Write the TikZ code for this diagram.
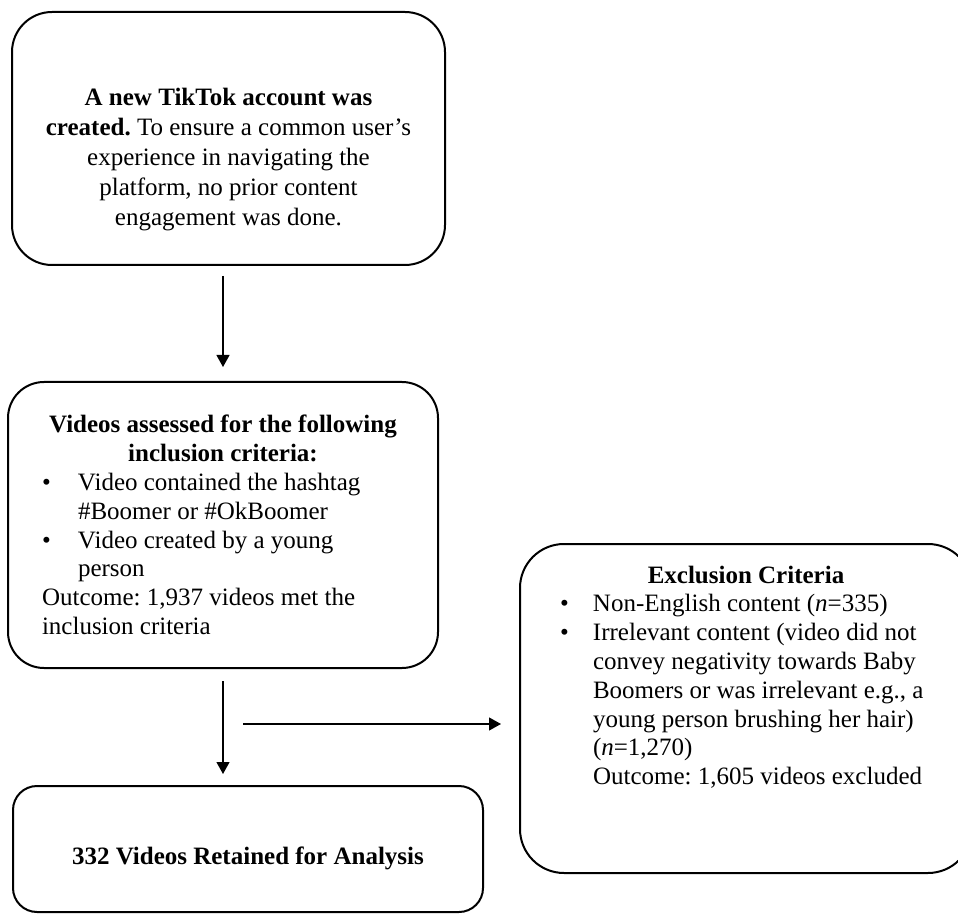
\documentclass[tikz,border=0pt]{standalone}
\usepackage{fontspec}
\setmainfont{Liberation Serif}
\usetikzlibrary{arrows.meta}
\newcommand{\bitem}[2][18pt]{\par\hangindent=#1\hangafter=1\noindent\makebox[#1][l]{\textbullet}#2\par}
\tikzset{
  stage/.style={draw, line width=1pt, rounded corners=#1, inner sep=0pt,
    font=\fontsize{12.5pt}{14.4pt}\selectfont\frenchspacing},
  stage/.default=20pt,
  flow/.style={-{Triangle[length=6pt,width=6.5pt]}, line width=0.6pt},
}
\begin{document}
\begin{tikzpicture}[x=0.5pt, y=-0.5pt]
      \useasboundingbox (0,0) rectangle (958,914);
      \node[stage, minimum width=216.5pt, minimum height=126.5pt, text width=200pt,
        align=flush center, text height=29.8pt,
        font=\fontsize{12.5pt}{15.1pt}\selectfont\frenchspacing] (acct) at (228.5,138.5)
        {\textbf{A new TikTok account was\\created.} To ensure a common user's\\experience in navigating the\\platform, no prior content\\engagement was done.};
      \node[stage=18pt, minimum width=215pt, minimum height=143pt, text width=181pt,
        align=flush left] (crit) at (223,525)
        {{\centering\textbf{Videos assessed for the following\\inclusion criteria:}\par}
         \bitem{Video contained the hashtag\newline\#Boomer or \#OkBoomer}
         \bitem{Video created by a young\newline person}
         Outcome: 1,937 videos met the\\inclusion criteria};
      \node[stage=12pt, minimum width=235pt, minimum height=63pt, align=flush center,
        text height=18.5pt] (kept) at (248,849)
        {\textbf{332 Videos Retained for Analysis}};
      \node[stage=22pt, minimum width=226pt, minimum height=164.5pt, text width=186pt,
        align=flush left, text depth=134pt] (excl) at (746,708.5)
        {{\centering\textbf{Exclusion Criteria}\par}
         \bitem[16.5pt]{Non-English content (\textit{n}=335)}
         \bitem[16.5pt]{Irrelevant content (video did not\newline convey negativity towards Baby\newline Boomers or was irrelevant e.g., a\newline young person brushing her hair)\newline (\textit{n}=1,270)}
         \hspace*{16.5pt}Outcome: 1,605 videos excluded};
      \coordinate (split) at (243,724);
      \begin{scope}[flow]
        \draw[shorten <=5pt, shorten >=7pt] (acct.south -| crit.north) to (crit.north);
        \draw[shorten <=6pt, shorten >=5.5pt] (crit.south) to (crit.south |- kept.north);
        \draw[shorten >=9pt] (split) to (split -| excl.west);
      \end{scope}
    \end{tikzpicture}
\end{document}
